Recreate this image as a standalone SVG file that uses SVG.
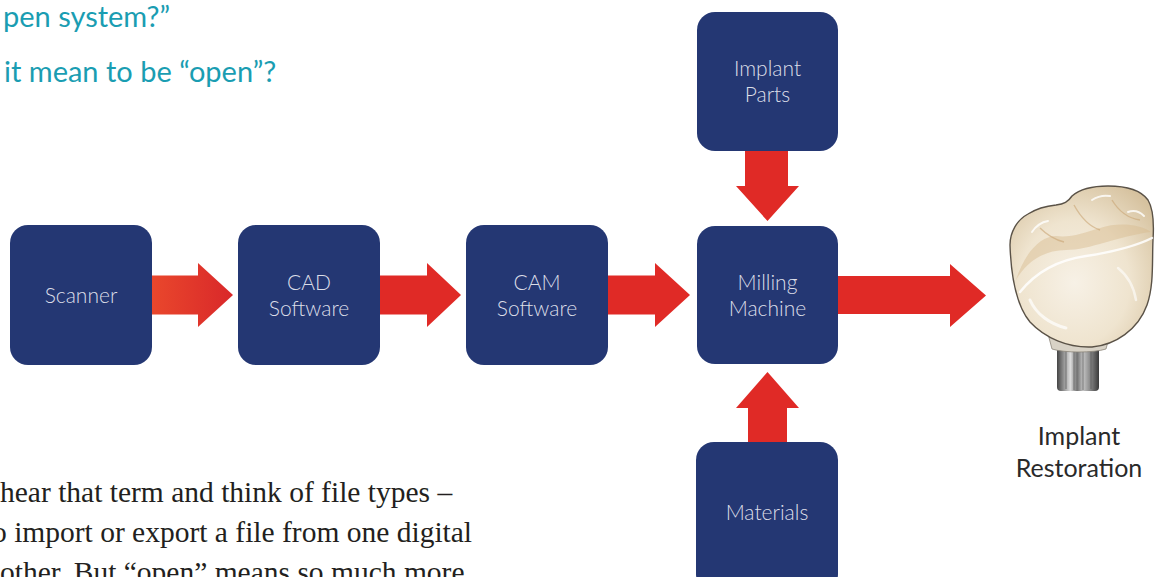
<svg xmlns="http://www.w3.org/2000/svg" width="1157" height="577" viewBox="0 0 1157 577">
<defs>
<style>
.box{fill:#243773;}
.lbl{font-family:"Lato","Liberation Sans",sans-serif;font-weight:300;font-size:21px;fill:#dcdee8;text-anchor:middle;}
.arrow{fill:#e02a26;}
.teal{font-family:"Lato","Liberation Sans",sans-serif;font-size:29px;fill:#1a9db2;}
.body{font-family:"Liberation Serif","Times New Roman",serif;font-size:29.5px;fill:#231f20;}
.cap{font-family:"Lato","Liberation Sans",sans-serif;font-size:25px;fill:#2a2a2a;text-anchor:middle;}
.hl{stroke:#ffffff;fill:none;stroke-linecap:round;}
</style>
<linearGradient id="g1" x1="0" y1="0" x2="1" y2="0">
<stop offset="0" stop-color="#e9472c"/>
<stop offset="1" stop-color="#d9282a"/>
</linearGradient>
<radialGradient id="crownG" cx="0.45" cy="0.6" r="0.7">
<stop offset="0" stop-color="#f7f1e6"/>
<stop offset="0.55" stop-color="#efe4cf"/>
<stop offset="1" stop-color="#d6c29f"/>
</radialGradient>
<linearGradient id="metal" x1="0" y1="0" x2="1" y2="0">
<stop offset="0" stop-color="#454545"/>
<stop offset="0.18" stop-color="#9c9c9c"/>
<stop offset="0.32" stop-color="#dcdcdc"/>
<stop offset="0.48" stop-color="#727272"/>
<stop offset="0.62" stop-color="#c4c4c4"/>
<stop offset="0.8" stop-color="#858585"/>
<stop offset="1" stop-color="#3a3a3a"/>
</linearGradient>
</defs>
<rect width="1157" height="577" fill="#ffffff"/>

<g id="text-top">
<text class="teal" x="3" y="27">pen system?”</text>
<text class="teal" x="4" y="82">it mean to be “open”?</text>
</g>

<g id="text-body">
<text class="body" x="0" y="502">hear that term and think of file types –</text>
<text class="body" x="-8" y="542">o import or export a file from one digital</text>
<text class="body" x="0" y="582">other. But “open” means so much more</text>
</g>

<g id="connectors">
<path d="M152,275.5 H198 V263 L233,295 L198,327 V314.5 H152 Z" fill="url(#g1)"/>
<path class="arrow" d="M380,275.5 H427 V263 L461,295 L427,327 V314.5 H380 Z"/>
<path class="arrow" d="M608,275.5 H655 V263 L690,295 L655,327 V314.5 H608 Z"/>
<path class="arrow" d="M838,276 H950 V264 L986,295.5 L950,327 V314 H838 Z"/>
<path class="arrow" d="M745,151 H788 V186 H799 L767.5,221 L736,186 H745 Z"/>
<path class="arrow" d="M748,442 V408 H736 L767.5,372 L799,408 H787 V442 Z"/>
</g>

<g id="scanner">
<rect class="box" x="10" y="225" width="142" height="140" rx="18"/>
<text class="lbl" x="81" y="303">Scanner</text>
</g>
<g id="cad">
<rect class="box" x="238" y="225" width="142" height="140" rx="18"/>
<text class="lbl" x="309" y="290">CAD</text>
<text class="lbl" x="309" y="316">Software</text>
</g>
<g id="cam">
<rect class="box" x="466" y="225" width="142" height="140" rx="18"/>
<text class="lbl" x="537" y="290">CAM</text>
<text class="lbl" x="537" y="316">Software</text>
</g>
<g id="milling">
<rect class="box" x="697" y="226" width="141" height="138" rx="18"/>
<text class="lbl" x="767.5" y="290">Milling</text>
<text class="lbl" x="767.5" y="316">Machine</text>
</g>
<g id="implant-parts">
<rect class="box" x="697" y="12" width="141" height="139" rx="18"/>
<text class="lbl" x="767.5" y="76">Implant</text>
<text class="lbl" x="767.5" y="102">Parts</text>
</g>
<g id="materials">
<rect class="box" x="696" y="442" width="142" height="150" rx="18"/>
<text class="lbl" x="767" y="520">Materials</text>
</g>

<g id="implant-restoration">
<rect x="1057" y="344" width="42" height="47" rx="4" fill="url(#metal)"/>
<path d="M1066,350 V389 M1074,350 V390 M1083,350 V390 M1091,350 V389" stroke="#5a5a5a" stroke-width="1.2" opacity="0.6" fill="none"/>
<path d="M1048,334 H1110 L1106,349 C1094,353 1064,353 1052,349 Z" fill="#d8d2c6" stroke="#8c857a" stroke-width="0.8"/>
<path d="M1010,245 C1010,232 1017,220 1028,214 C1036,209 1046,206 1056,205 C1064,204 1068,202 1072,196 C1080,189 1094,186 1108,186 C1124,186 1140,189 1148,200 C1154,210 1154,225 1153,240 C1152,262 1154,285 1147,305 C1138,330 1115,345 1092,347 C1068,348 1045,338 1030,322 C1016,305 1011,275 1010,245 Z" fill="url(#crownG)" stroke="#5a5247" stroke-width="1.4"/>
<path d="M1016,280 C1026,262 1044,250 1066,250 C1090,250 1118,236 1151,232 C1140,224 1118,222 1100,228 C1084,233 1070,238 1056,236 C1040,236 1024,254 1016,280 Z" fill="#d6bb8e" opacity="0.45"/>
<path d="M1040,228 C1048,236 1056,240 1064,242 M1074,205 C1080,216 1088,226 1100,230 M1112,200 C1118,210 1126,218 1140,220" stroke="#c9a574" stroke-width="1.4" fill="none" opacity="0.6"/>
<path class="hl" d="M1020,292 C1036,272 1058,260 1086,256 C1112,252 1134,247 1152,238" stroke-width="2.5" opacity="0.85"/>
<path class="hl" d="M1030,300 C1036,314 1050,324 1066,328" stroke-width="3" opacity="0.7"/>
<path class="hl" d="M1118,268 C1128,276 1134,288 1136,300" stroke-width="2.5" opacity="0.6"/>
<path class="hl" d="M1032,232 C1036,226 1042,222 1048,221 M1092,200 C1098,196 1104,195 1110,196 M1128,212 C1134,210 1140,212 1144,216" stroke-width="2" opacity="0.8"/>
<text class="cap" x="1079" y="445">Implant</text>
<text class="cap" x="1079" y="477">Restoration</text>
</g>
</svg>
